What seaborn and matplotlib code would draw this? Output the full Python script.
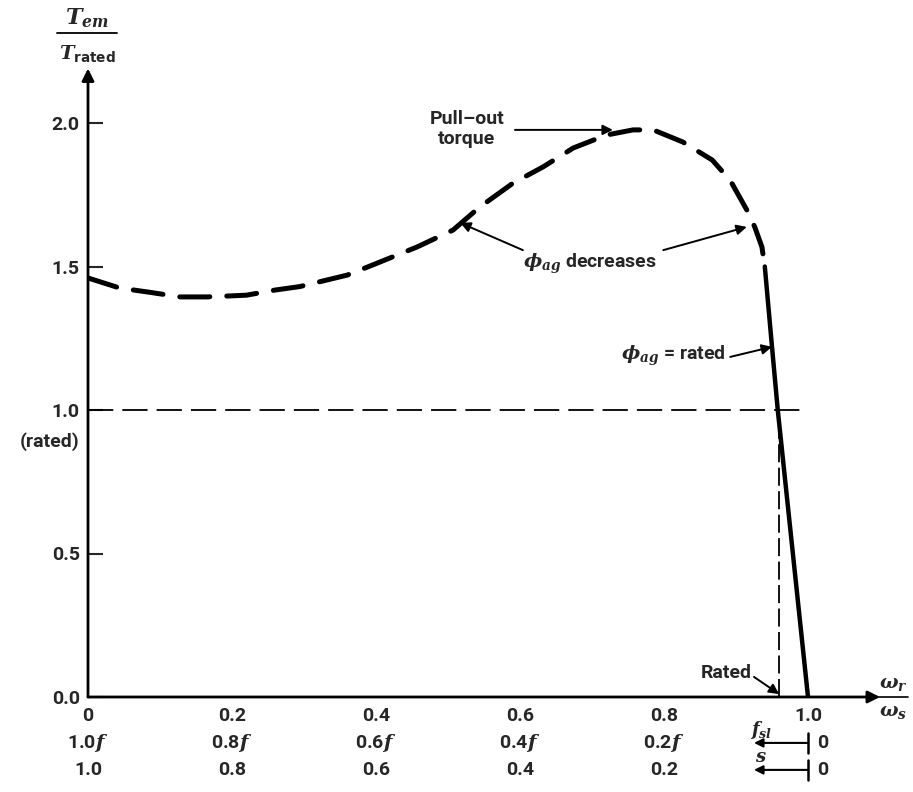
import numpy as np
import pandas as pd
import seaborn as sns
import matplotlib.pyplot as plt

# curve data (omega_r / omega_s , T_em / T_rated)
omega_dashed = [0.0, 0.044, 0.086, 0.128, 0.165, 0.22, 0.26, 0.294, 0.36, 0.40, 0.457,
                0.507, 0.544, 0.59, 0.632, 0.674, 0.72, 0.757, 0.785, 0.826, 0.867,
                0.892, 0.915, 0.926, 0.936, 0.94]
torque_dashed = [1.46, 1.425, 1.41, 1.394, 1.394, 1.40, 1.418, 1.43, 1.47, 1.51, 1.568,
                 1.627, 1.707, 1.79, 1.847, 1.913, 1.958, 1.976, 1.976, 1.934, 1.871,
                 1.80, 1.697, 1.638, 1.568, 1.50]
omega_solid = [0.94, 0.95, 0.958, 0.971, 1.0]
torque_solid = [1.50, 1.22, 1.0, 0.69, 0.0]

rated_speed = 0.96
rated_torque = 1.0

x_ticks = [0, 0.2, 0.4, 0.6, 0.8, 1.0]
x_labels = ['0', '0.2', '0.4', '0.6', '0.8', '1.0']
fsl_ticks = [0, 0.2, 0.4, 0.6, 0.8]
fsl_labels = ['1.0$f$', '0.8$f$', '0.6$f$', '0.4$f$', '0.2$f$']
slip_labels = ['1.0', '0.8', '0.6', '0.4', '0.2']
y_ticks = [0.0, 0.5, 1.0, 1.5, 2.0]
y_labels = ['0.0', '0.5', '1.0', '1.5', '2.0']

sns.set_style('white')
plt.rcParams['font.family'] = ['Roboto', 'DejaVu Sans']
plt.rcParams['font.weight'] = 'bold'
plt.rcParams['mathtext.fontset'] = 'dejavuserif'

FS = 14

fig = plt.figure(figsize=(9.13, 7.92), dpi=100)
ax = fig.add_axes([88 / 913, 95 / 792, 1.12 * 720 / 913, 2.22 * 287 / 792])

dashed = pd.DataFrame({'omega': omega_dashed, 'torque': torque_dashed})
solid = pd.DataFrame({'omega': omega_solid, 'torque': torque_solid})

sns.lineplot(data=dashed, x='omega', y='torque', ax=ax, color='black', lw=3.6,
             sort=False, dashes=False, solid_capstyle='round')
ax.lines[-1].set_dashes([6, 3.4])
ax.lines[-1].set_dash_capstyle('round')
sns.lineplot(data=solid, x='omega', y='torque', ax=ax, color='black', lw=3.2, sort=False)

# rated reference lines
ax.plot([0, 1.0], [rated_torque, rated_torque], color='black', lw=1.3, dashes=[14, 5])
ax.plot([rated_speed, rated_speed], [0, rated_torque], color='black', lw=1.3, dashes=[10, 3])

ax.set_xlim(0, 1.12)
ax.set_ylim(0, 2.22)
for s in ax.spines.values():
    s.set_visible(False)

# axes with arrow heads
ax.annotate('', xy=(1.10, 0), xytext=(0, 0), annotation_clip=False,
            arrowprops=dict(arrowstyle='-|>', lw=2, color='black', mutation_scale=18, shrinkA=0, shrinkB=0))
ax.annotate('', xy=(0, 2.19), xytext=(0, 0), annotation_clip=False,
            arrowprops=dict(arrowstyle='-|>', lw=2, color='black', mutation_scale=18, shrinkA=0, shrinkB=0))

ax.set_yticks(y_ticks)
ax.set_yticklabels(y_labels, fontsize=FS)
ax.tick_params(axis='y', direction='in', length=11, width=1.5, pad=6, left=True)
ax.set_xticks(x_ticks)
ax.set_xticklabels(x_labels, fontsize=FS)
ax.tick_params(axis='x', length=0, pad=7)
ax.set_xlabel('')
ax.set_ylabel('')
ax.grid(False)

ax.text(-0.012, 0.89, '(rated)', ha='right', va='center', fontsize=FS)

# second and third rows below the axis
for xv, lab in zip(fsl_ticks, fsl_labels):
    ax.text(xv, -0.16, lab, ha='center', va='center', fontsize=FS)
for xv, lab in zip(fsl_ticks, slip_labels):
    ax.text(xv, -0.254, lab, ha='center', va='center', fontsize=FS)

for yrow, name in [(-0.16, '$f_{sl}$'), (-0.254, '$s$')]:
    ax.annotate('', xy=(0.925, yrow), xytext=(1.0, yrow), annotation_clip=False,
                arrowprops=dict(arrowstyle='-|>', lw=1.5, color='black', mutation_scale=13, shrinkA=0, shrinkB=0))
    ax.plot([1.0, 1.0], [yrow - 0.035, yrow + 0.035], color='black', lw=1.8, clip_on=False)
    ax.text(1.02, yrow, '0', ha='center', va='center', fontsize=FS)
    ax.text(0.935, yrow + 0.045, name, ha='center', va='center', fontsize=13)

# axis titles as fractions
fig.text(87 / 913, 1 - 18 / 792, '$\\mathbfit{T_{em}}$', ha='center', va='center', fontsize=16)
fig.add_artist(plt.Line2D([57 / 913, 117 / 913], [1 - 33 / 792, 1 - 33 / 792], color='black', lw=1.3))
fig.text(87 / 913, 1 - 53 / 792, '$T_{\\mathsf{rated}}$', ha='center', va='center', fontsize=14)

fig.text(893 / 913, 1 - 684 / 792, '$\\omega_r$', ha='center', va='center', fontsize=14)
fig.add_artist(plt.Line2D([878 / 913, 908 / 913], [1 - 697 / 792, 1 - 697 / 792], color='black', lw=1.2))
fig.text(893 / 913, 1 - 712 / 792, '$\\omega_s$', ha='center', va='center', fontsize=14)

arrow_kw = dict(arrowstyle='-|>', lw=1.4, color='black', mutation_scale=15, shrinkA=0, shrinkB=0)

ax.text(0.526, 1.98, 'Pull\u2013out\ntorque', ha='center', va='center', fontsize=FS, linespacing=1.15)
ax.annotate('', xy=(0.729, 1.976), xytext=(0.593, 1.976), arrowprops=arrow_kw)

ax.text(0.697, 1.51, '$\\phi_{ag}$ decreases', ha='center', va='center', fontsize=FS)
ax.annotate('', xy=(0.517, 1.652), xytext=(0.604, 1.557), arrowprops=arrow_kw)
ax.annotate('', xy=(0.915, 1.638), xytext=(0.799, 1.557), arrowprops=arrow_kw)

ax.text(0.885, 1.19, '$\\phi_{ag}$ = rated', ha='right', va='center', fontsize=FS)
ax.annotate('', xy=(0.95, 1.22), xytext=(0.892, 1.185), arrowprops=arrow_kw)

ax.text(0.922, 0.085, 'Rated', ha='right', va='center', fontsize=FS)
ax.annotate('', xy=(0.96, 0.01), xytext=(0.925, 0.07), arrowprops=arrow_kw)

fig.savefig('out.png', dpi=100)
